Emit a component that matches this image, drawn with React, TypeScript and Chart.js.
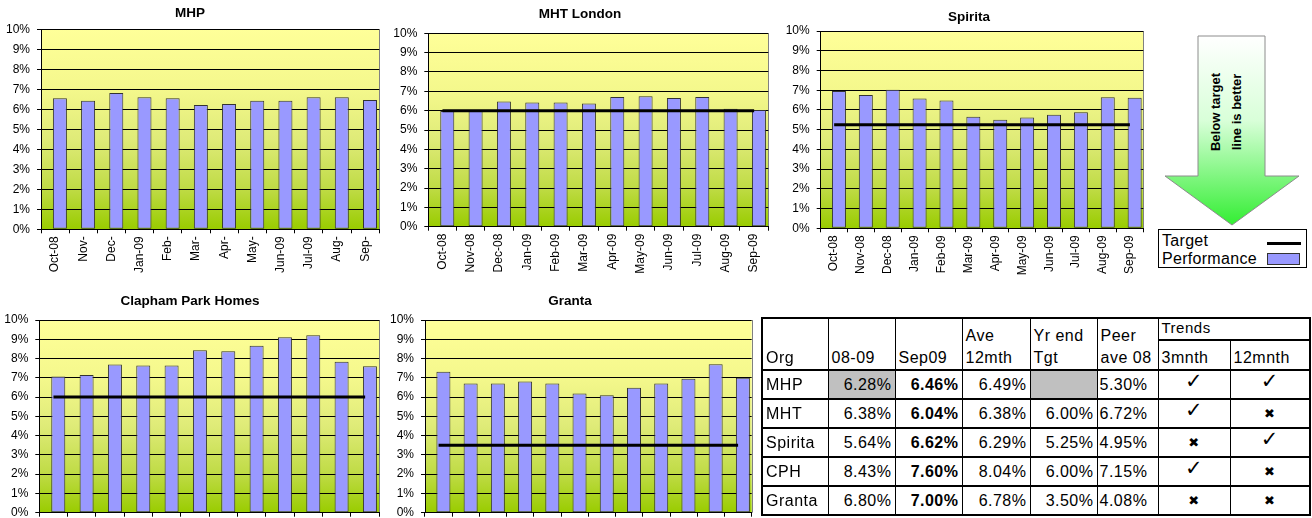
import React, { useEffect, useRef } from "react";
import { Chart, registerables } from "chart.js";

Chart.register(...registerables);

const FONT = '"Liberation Sans", Arial, Helvetica, sans-serif';
Chart.defaults.font.family = FONT;
Chart.defaults.color = "#000";

// ---------- data ----------
const mhpMonths = ["Oct-08", "Nov-", "Dec-", "Jan-09", "Feb-", "Mar-", "Apr-", "May-", "Jun-09", "Jul-09", "Aug-", "Sep-"];
const months = ["Oct-08", "Nov-08", "Dec-08", "Jan-09", "Feb-09", "Mar-09", "Apr-09", "May-09", "Jun-09", "Jul-09", "Aug-09", "Sep-09"];
const yTickLabels = ["0%", "1%", "2%", "3%", "4%", "5%", "6%", "7%", "8%", "9%", "10%"];

const mhpPerformance = [6.55, 6.43, 6.81, 6.6, 6.55, 6.21, 6.27, 6.43, 6.43, 6.6, 6.6, 6.46];

const mhtPerformance = [5.98, 5.98, 6.48, 6.42, 6.42, 6.37, 6.7, 6.75, 6.65, 6.7, 6.1, 6.04];
const mhtTarget = [6.0, 6.0, 6.0, 6.0, 6.0, 6.0, 6.0, 6.0, 6.0, 6.0, 6.0, 6.0];

const spiritaPerformance = [6.96, 6.75, 7.02, 6.58, 6.48, 5.66, 5.5, 5.61, 5.76, 5.88, 6.64, 6.62];
const spiritaTarget = [5.25, 5.25, 5.25, 5.25, 5.25, 5.25, 5.25, 5.25, 5.25, 5.25, 5.25, 5.25];

const cphPerformance = [7.07, 7.14, 7.69, 7.64, 7.64, 8.43, 8.38, 8.66, 9.1, 9.21, 7.83, 7.6];
const cphTarget = [6.0, 6.0, 6.0, 6.0, 6.0, 6.0, 6.0, 6.0, 6.0, 6.0, 6.0, 6.0];

const grantaPerformance = [7.31, 6.71, 6.71, 6.81, 6.71, 6.19, 6.09, 6.48, 6.71, 6.95, 7.71, 7.0];
const grantaTarget = [3.5, 3.5, 3.5, 3.5, 3.5, 3.5, 3.5, 3.5, 3.5, 3.5, 3.5, 3.5];

// table
const tableHeaders = [["Org"], ["08-09"], ["Sep09"], ["Ave", "12mth"], ["Yr end", "Tgt"], ["Peer", "ave 08"]];
const trendHeaders = ["3mnth", "12mnth"];
const tableOrgs = ["MHP", "MHT", "Spirita", "CPH", "Granta"];
const col0809 = ["6.28%", "6.38%", "5.64%", "8.43%", "6.80%"];
const colSep09 = ["6.46%", "6.04%", "6.62%", "7.60%", "7.00%"];
const colAve12 = ["6.49%", "6.38%", "6.29%", "8.04%", "6.78%"];
const colYrEndTgt = ["", "6.00%", "5.25%", "6.00%", "3.50%"];
const colPeer = ["5.30%", "6.72%", "4.95%", "7.15%", "4.08%"];
const trend3 = [true, true, false, true, false];
const trend12 = [true, false, true, false, false];

// ---------- layout ----------
type Box = { left: number; top: number; width: number; height: number };
type Plot = { left: number; right: number; top: number; bottom: number };
type Spec = {
  title: string;
  labels: string[];
  perf: number[];
  target: number[] | null;
  box: Box;
  plot: Plot;
  titleX: number;
  titleY: number;
};

const specs: Spec[] = [
  {
    title: "MHP", labels: mhpMonths, perf: mhpPerformance, target: null,
    box: { left: 0, top: 0, width: 392, height: 280 },
    plot: { left: 41, right: 379.3, top: 29.3, bottom: 229.3 },
    titleX: 190, titleY: 12.7,
  },
  {
    title: "MHT London", labels: months, perf: mhtPerformance, target: mhtTarget,
    box: { left: 392, top: 0, width: 390, height: 280 },
    plot: { left: 428.3, right: 768.3, top: 33.3, bottom: 226.7 },
    titleX: 580, titleY: 14,
  },
  {
    title: "Spirita", labels: months, perf: spiritaPerformance, target: spiritaTarget,
    box: { left: 782, top: 0, width: 375, height: 280 },
    plot: { left: 820.7, right: 1143.3, top: 31, bottom: 228.3 },
    titleX: 969, titleY: 17,
  },
  {
    title: "Clapham Park Homes", labels: months, perf: cphPerformance, target: cphTarget,
    box: { left: 0, top: 280, width: 392, height: 290 },
    plot: { left: 39.3, right: 379.3, top: 320, bottom: 512.7 },
    titleX: 190, titleY: 300.7,
  },
  {
    title: "Granta", labels: months, perf: grantaPerformance, target: grantaTarget,
    box: { left: 385, top: 280, width: 375, height: 290 },
    plot: { left: 425, right: 751.7, top: 320, bottom: 512.7 },
    titleX: 570, titleY: 300.7,
  },
];

const plotBackground = {
  id: "plotBackground",
  beforeDraw(chart: any) {
    const { ctx, chartArea: a } = chart;
    if (!a) return;
    const g = ctx.createLinearGradient(0, a.top, 0, a.bottom);
    g.addColorStop(0, "#FFFF99");
    g.addColorStop(0.3, "#F4F88C");
    g.addColorStop(0.55, "#DFEB78");
    g.addColorStop(0.8, "#BFDB45");
    g.addColorStop(1, "#99CC00");
    ctx.save();
    ctx.fillStyle = g;
    ctx.fillRect(a.left, a.top, a.right - a.left, a.bottom - a.top);
    ctx.strokeStyle = "#808080";
    ctx.lineWidth = 1;
    ctx.beginPath();
    const x = Math.round(a.right) + 0.5;
    ctx.moveTo(x, a.top);
    ctx.lineTo(x, a.bottom);
    ctx.stroke();
    ctx.restore();
  },
};

const TITLE_SIZE = 13.5;

function MiniChart({ spec }: { spec: Spec }) {
  const ref = useRef<HTMLCanvasElement | null>(null);
  useEffect(() => {
    if (!ref.current) return;
    const { box, plot } = spec;
    const padTop = plot.top - box.top;
    const padRight = box.left + box.width - plot.right;
    const yWidth = plot.left - box.left;
    const xHeight = box.top + box.height - plot.bottom;
    const catW = (plot.right - plot.left) / spec.labels.length;
    const barOffset = 4.8;
    const barW = 14;
    const catPct = (4 * barOffset) / catW;
    const barPct = barW / ((catW * catPct) / 2);

    const datasets: any[] = [
      {
        type: "bar",
        label: "spacer",
        data: spec.labels.map(() => null),
        order: 1,
        categoryPercentage: catPct,
        barPercentage: barPct,
      },
      {
        type: "bar",
        label: "Performance",
        data: spec.perf,
        backgroundColor: "#9999FF",
        borderColor: "#333333",
        borderWidth: 1,
        borderSkipped: false,
        order: 2,
        categoryPercentage: catPct,
        barPercentage: barPct,
      },
    ];
    if (spec.target) {
      datasets.push({
        type: "line",
        label: "Target",
        data: spec.target,
        borderColor: "#000000",
        borderWidth: 3,
        pointRadius: 0,
        fill: false,
        tension: 0,
        order: 0,
      });
    }

    const chart = new Chart(ref.current, {
      type: "bar",
      data: { labels: spec.labels, datasets },
      plugins: [plotBackground],
      options: {
        animation: false,
        responsive: false,
        maintainAspectRatio: false,
        devicePixelRatio: 1,
        events: [],
        layout: { padding: { left: 0, right: padRight, top: padTop, bottom: 0 } },
        plugins: {
          legend: { display: false },
          tooltip: { enabled: false },
          title: { display: false },
        },
        scales: {
          x: {
            type: "category",
            offset: true,
            grid: {
              display: true,
              drawOnChartArea: false,
              drawTicks: true,
              tickLength: 4,
              color: "#000",
              offset: true,
            },
            border: { display: true, color: "#000", width: 1 },
            ticks: {
              autoSkip: false,
              maxRotation: 90,
              minRotation: 90,
              padding: 3,
              color: "#000",
              font: { size: 12, family: FONT },
            },
            afterFit: (s: any) => {
              s.height = xHeight;
            },
          },
          y: {
            min: 0,
            max: 10,
            ticks: {
              stepSize: 1,
              padding: 7,
              color: "#000",
              font: { size: 12, family: FONT },
              callback: (v: any) => yTickLabels[Math.round(Number(v))],
            },
            grid: { color: "#000", lineWidth: 1, tickLength: 4, drawTicks: true },
            border: { display: true, color: "#000", width: 1 },
            afterFit: (s: any) => {
              s.width = yWidth;
            },
          },
        },
      } as any,
    });
    return () => chart.destroy();
  }, [spec]);
  return (
    <>
      <canvas
        ref={ref}
        width={spec.box.width}
        height={spec.box.height}
        style={{
          position: "absolute",
          left: spec.box.left,
          top: spec.box.top,
          width: spec.box.width,
          height: spec.box.height,
        }}
      />
      <div
        style={{
          position: "absolute",
          left: spec.titleX - 150,
          width: 300,
          top: spec.titleY - 9,
          height: 18,
          lineHeight: "18px",
          textAlign: "center",
          fontFamily: FONT,
          fontWeight: "bold",
          fontSize: TITLE_SIZE,
          color: "#000",
          whiteSpace: "nowrap",
        }}
      >
        {spec.title}
      </div>
    </>
  );
}

function Arrow() {
  return (
    <svg
      width={150}
      height={200}
      style={{ position: "absolute", left: 1160, top: 30 }}
      viewBox="0 0 150 200"
    >
      <defs>
        <linearGradient id="arrowGrad" x1="0" y1="0" x2="0" y2="1">
          <stop offset="0" stopColor="#FFFFFF" />
          <stop offset="0.45" stopColor="#D8FFD8" />
          <stop offset="1" stopColor="#33EE33" />
        </linearGradient>
      </defs>
      <polygon
        points="38,6 105,6 105,146 139,146 72,195 5,146 38,146"
        fill="url(#arrowGrad)"
        stroke="#8C8C8C"
        strokeWidth={1}
      />
      <text
        x={55}
        y={82}
        transform="rotate(-90 55 82)"
        textAnchor="middle"
        dominantBaseline="central"
        fontFamily={FONT}
        fontWeight="bold"
        fontSize={13}
        fill="#000"
      >
        Below target
      </text>
      <text
        x={76}
        y={82}
        transform="rotate(-90 76 82)"
        textAnchor="middle"
        dominantBaseline="central"
        fontFamily={FONT}
        fontWeight="bold"
        fontSize={13}
        fill="#000"
      >
        line is better
      </text>
    </svg>
  );
}

function LegendBox() {
  const txt: React.CSSProperties = {
    position: "absolute",
    left: 3,
    fontSize: 16,
    lineHeight: "18px",
    letterSpacing: "0.3px",
    whiteSpace: "nowrap",
  };
  return (
    <div
      style={{
        position: "absolute",
        left: 1158,
        top: 229,
        width: 149,
        height: 39,
        boxSizing: "border-box",
        border: "1px solid #000",
        background: "#fff",
        fontFamily: FONT,
        color: "#000",
      }}
    >
      <div style={{ ...txt, top: 2 }}>Target</div>
      <div style={{ ...txt, top: 20 }}>Performance</div>
      <div style={{ position: "absolute", left: 108, top: 12, width: 34, height: 3, background: "#000" }} />
      <div
        style={{
          position: "absolute",
          left: 108,
          top: 23,
          width: 33,
          height: 12,
          boxSizing: "border-box",
          background: "#9999FF",
          border: "1px solid #333",
        }}
      />
    </div>
  );
}

function Check() {
  return (
    <span style={{ fontFamily: '"DejaVu Sans", sans-serif', fontSize: 21, position: "relative", top: -3 }}>
      {"\u2713"}
    </span>
  );
}
function Cross() {
  return (
    <span style={{ fontFamily: '"DejaVu Sans", sans-serif', fontSize: 13 }}>{"\u2716"}</span>
  );
}

function SummaryTable() {
  const colWidths = [66, 67, 67, 68, 67, 61, 72, 80];
  const base: React.CSSProperties = {
    borderTop: "2px solid #000",
    borderBottom: "2px solid #000",
    borderLeft: "1px solid #000",
    borderRight: "1px solid #000",
    padding: "0 3px",
    whiteSpace: "nowrap",
    overflow: "hidden",
  };
  const hdr: React.CSSProperties = { ...base, verticalAlign: "bottom", textAlign: "left", lineHeight: "22px", paddingBottom: 0 };
  const cell: React.CSSProperties = { ...base, verticalAlign: "middle", lineHeight: "20px" };
  const num: React.CSSProperties = { ...cell, textAlign: "right" };
  const gray = "#C0C0C0";
  return (
    <table
      style={{
        position: "absolute",
        left: 761,
        top: 317,
        width: 548,
        borderCollapse: "collapse",
        tableLayout: "fixed",
        fontFamily: FONT,
        fontSize: 16,
        letterSpacing: "0.5px",
        color: "#000",
        border: "2px solid #000",
        background: "#fff",
      }}
    >
      <colgroup>
        {colWidths.map((w, i) => (
          <col key={i} style={{ width: w }} />
        ))}
      </colgroup>
      <tbody>
        <tr style={{ height: 22 }}>
          {tableHeaders.map((h, i) => (
            <td key={i} rowSpan={2} style={hdr}>
              {h.map((line, j) => (
                <React.Fragment key={j}>
                  {j > 0 && <br />}
                  {line}
                </React.Fragment>
              ))}
            </td>
          ))}
          <td colSpan={2} style={{ ...base, borderBottom: "1px solid #000", fontSize: 15, lineHeight: "18px", verticalAlign: "top" }}>
            Trends
          </td>
        </tr>
        <tr style={{ height: 30 }}>
          {trendHeaders.map((h, i) => (
            <td key={i} style={hdr}>
              {h}
            </td>
          ))}
        </tr>
        {tableOrgs.map((org, r) => (
          <tr key={org} style={{ height: 29 }}>
            <td style={{ ...cell, textAlign: "left" }}>{org}</td>
            <td style={{ ...num, background: r === 0 ? gray : undefined }}>{col0809[r]}</td>
            <td style={{ ...num, fontWeight: "bold" }}>{colSep09[r]}</td>
            <td style={num}>{colAve12[r]}</td>
            <td style={{ ...num, background: colYrEndTgt[r] === "" ? gray : undefined }}>{colYrEndTgt[r]}</td>
            <td style={{ ...cell, textAlign: "left", paddingLeft: 2 }}>{colPeer[r]}</td>
            <td style={{ ...cell, textAlign: "center" }}>{trend3[r] ? <Check /> : <Cross />}</td>
            <td style={{ ...cell, textAlign: "center" }}>{trend12[r] ? <Check /> : <Cross />}</td>
          </tr>
        ))}
      </tbody>
    </table>
  );
}

export default function App() {
  return (
    <div
      style={{
        position: "fixed",
        left: 0,
        top: 0,
        width: 1312,
        height: 518,
        overflow: "hidden",
        background: "#fff",
        fontFamily: FONT,
      }}
    >
      {specs.map((s) => (
        <MiniChart key={s.title} spec={s} />
      ))}
      <Arrow />
      <LegendBox />
      <SummaryTable />
    </div>
  );
}
